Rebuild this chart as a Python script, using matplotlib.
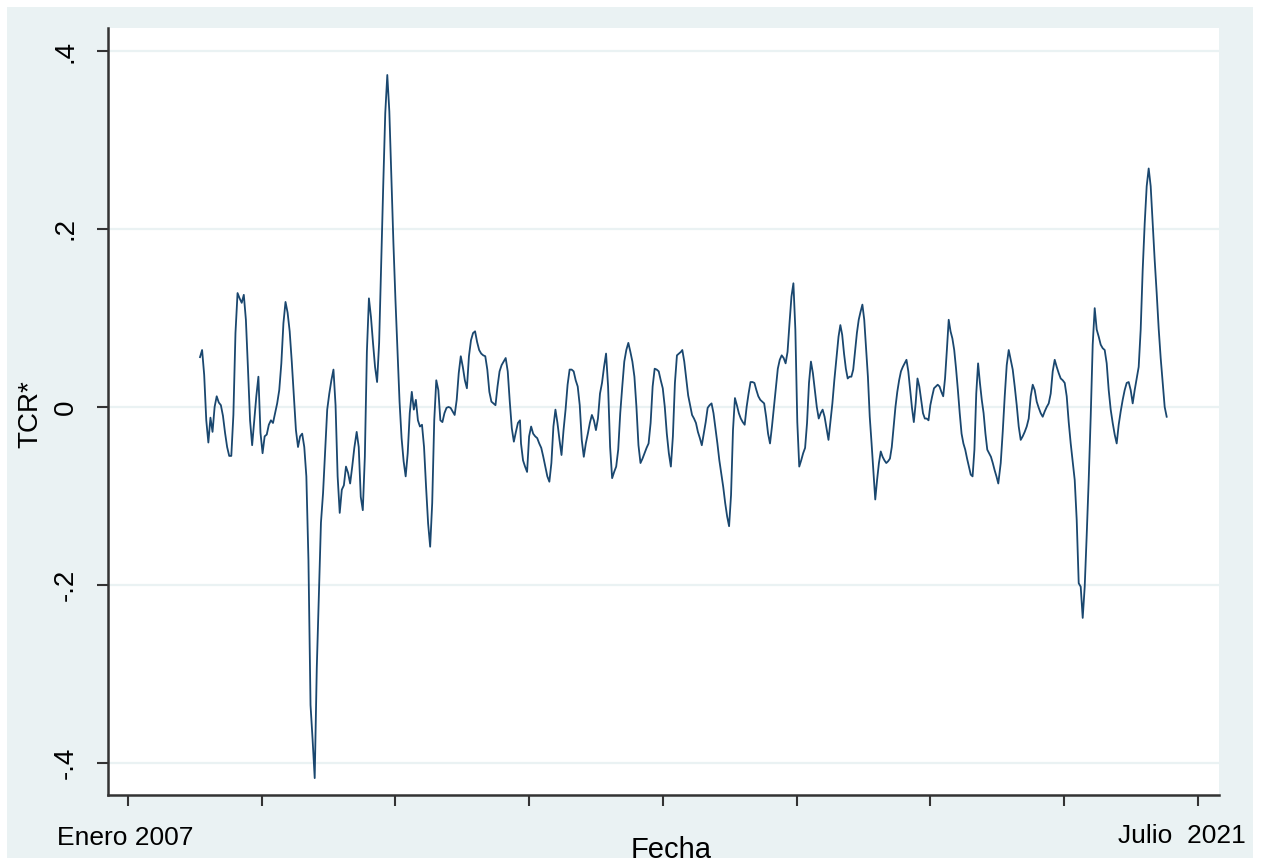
import numpy as np
import matplotlib.pyplot as plt
from matplotlib.patches import Rectangle

plt.rcParams['font.family'] = ['Liberation Sans', 'DejaVu Sans']

tcr_1 = [
    0.056, 0.064, 0.036, -0.015, -0.040, -0.012, -0.028, 0.000, 0.012, 0.005,
    0.002, -0.010, -0.029, -0.045, -0.055, -0.055, -0.009, 0.083, 0.128, 0.122,
    0.117, 0.126, 0.098, 0.043, -0.015, -0.043, -0.015, 0.012, 0.034, -0.029,
    -0.052, -0.033, -0.031, -0.020, -0.015, -0.018, -0.007, 0.004, 0.019, 0.049,
    0.094, 0.118, 0.106, 0.085, 0.051, 0.013, -0.026, -0.045, -0.033, -0.030,
    -0.045, -0.078, -0.172, -0.335, -0.374, -0.417, -0.293, -0.211, -0.130, -0.097,
    -0.050, -0.003, 0.015, 0.030, 0.042, 0.002, -0.078, -0.119, -0.093, -0.088,
    -0.067, -0.074, -0.086, -0.067, -0.046,
]
tcr_2 = [
    -0.028, -0.045, -0.101, -0.116, -0.056, 0.062, 0.122, 0.101, 0.072, 0.045,
    0.028, 0.072, 0.160, 0.248, 0.330, 0.373, 0.332, 0.259, 0.184, 0.120,
    0.062, 0.006, -0.035, -0.061, -0.078, -0.052, -0.007, 0.017, -0.003, 0.008,
    -0.015, -0.022, -0.020, -0.045, -0.090, -0.131, -0.157, -0.108, -0.015, 0.030,
    0.019, -0.015, -0.017, -0.007, -0.001, 0.000, -0.001, -0.005, -0.009, 0.008,
    0.038, 0.057, 0.045, 0.030, 0.021, 0.057, 0.075, 0.083, 0.085, 0.073,
    0.064, 0.060, 0.058, 0.057, 0.042, 0.017, 0.006, 0.004, 0.002, 0.023,
    0.040, 0.047, 0.051, 0.055, 0.040, 0.006, -0.024, -0.039, -0.028, -0.018,
    -0.015,
]
tcr_3 = [
    -0.041, -0.060, -0.067, -0.073, -0.033, -0.022, -0.030, -0.033, -0.035, -0.041,
    -0.046, -0.056, -0.067, -0.078, -0.084, -0.063, -0.022, -0.003, -0.018, -0.037,
    -0.054, -0.026, -0.003, 0.025, 0.042, 0.042, 0.040, 0.030, 0.023, 0.002,
    -0.037, -0.056, -0.041, -0.030, -0.018, -0.009, -0.015, -0.026, -0.013, 0.015,
    0.027, 0.045, 0.060, 0.023, -0.045, -0.080, -0.073, -0.067, -0.048, -0.007,
    0.023, 0.051, 0.064, 0.072, 0.062, 0.051, 0.034, 0.000, -0.043, -0.063,
    -0.058, -0.052, -0.046, -0.041, -0.018, 0.023, 0.043, 0.042, 0.040, 0.030,
    0.021, 0.000, -0.030, -0.052, -0.067, -0.033, 0.027, 0.058, 0.060, 0.062,
]
tcr_4 = [
    0.064, 0.051, 0.032, 0.013, 0.002, -0.009, -0.013, -0.018, -0.028, -0.035,
    -0.043, -0.030, -0.017, -0.001, 0.002, 0.004, -0.007, -0.024, -0.041, -0.060,
    -0.075, -0.090, -0.108, -0.123, -0.134, -0.099, -0.026, 0.010, 0.002, -0.007,
    -0.013, -0.017, -0.020, 0.000, 0.015, 0.028, 0.028, 0.027, 0.019, 0.012,
    0.008, 0.006, 0.004, -0.011, -0.030, -0.041, -0.022, 0.000, 0.023, 0.043,
    0.053, 0.058, 0.055, 0.049, 0.062, 0.094, 0.124, 0.139, 0.087, -0.017,
    -0.067, -0.060, -0.052, -0.046, -0.018, 0.027, 0.051, 0.038, 0.019, 0.000,
    -0.013, -0.007, -0.003, -0.011, -0.024, -0.037, -0.017, 0.004, 0.030,
]
tcr_5 = [
    0.057, 0.079, 0.092, 0.081, 0.060, 0.043, 0.032, 0.034, 0.034, 0.042,
    0.062, 0.083, 0.098, 0.107, 0.115, 0.098, 0.066, 0.034, -0.011, -0.041,
    -0.073, -0.104, -0.082, -0.063, -0.050, -0.056, -0.060, -0.063, -0.061, -0.058,
    -0.045, -0.022, 0.000, 0.017, 0.030, 0.040, 0.045, 0.049, 0.053, 0.040,
    0.019, -0.001, -0.017, 0.004, 0.032, 0.023, 0.008, -0.007, -0.013, -0.013,
    -0.015, 0.002, 0.012, 0.021, 0.023, 0.025, 0.023, 0.017, 0.012, 0.032,
    0.064, 0.098, 0.085, 0.077, 0.064, 0.043, 0.019, -0.007, -0.030, -0.041,
    -0.048, -0.058, -0.067, -0.076, -0.078, -0.048, 0.015, 0.049, 0.027, 0.008,
    -0.007, -0.030, -0.048, -0.052, -0.056, -0.063, -0.071, -0.078, -0.086,
]
tcr_6 = [
    -0.063, -0.028, 0.012, 0.047, 0.064, 0.053, 0.042, 0.023, 0.002, -0.022,
    -0.037, -0.033, -0.028, -0.022, -0.013, 0.012, 0.025, 0.019, 0.006, -0.001,
    -0.007, -0.011, -0.005, 0.000, 0.004, 0.015, 0.040, 0.053, 0.045, 0.038,
    0.032, 0.030, 0.027, 0.012, -0.017, -0.041, -0.061, -0.082, -0.127, -0.198,
    -0.202, -0.237, -0.202, -0.144, -0.082, -0.011, 0.070, 0.111, 0.087, 0.079,
    0.070, 0.066, 0.064, 0.049, 0.019, -0.003, -0.018, -0.031, -0.041, -0.020,
    -0.005, 0.008, 0.019, 0.027, 0.028, 0.019, 0.004, 0.019, 0.032, 0.045,
    0.087, 0.154, 0.206, 0.248, 0.268, 0.248, 0.206, 0.165, 0.128, 0.088,
    0.055, 0.027, 0.000, -0.011,
]
# fecha (anio decimal) de inicio y fin de cada tramo
tramos_ini = [2007.976, 2010.099, 2012.326, 2014.512, 2016.604, 2018.827]
tramos_fin = [2010.067, 2012.312, 2014.494, 2016.572, 2018.794, 2021.076]

yticks = [-0.4, -0.2, 0, 0.2, 0.4]
ytick_labels = ['-.4', '-.2', '0', '.2', '.4']
x_label_ini = 'Enero 2007'
x_label_fin = 'Julio  2021'

tramos = [tcr_1, tcr_2, tcr_3, tcr_4, tcr_5, tcr_6]
tcr = np.concatenate(tramos)
fecha = np.concatenate([np.linspace(a, b, len(t))
                        for a, b, t in zip(tramos_ini, tramos_fin, tramos)])

W, H = 1261, 863
fig = plt.figure(figsize=(W / 100, H / 100), dpi=100)
fig.patch.set_facecolor('white')
fig.add_artist(Rectangle((7 / W, 1 - 858 / H), (1253 - 7) / W, (858 - 7) / H,
                         transform=fig.transFigure, facecolor='#EAF2F3',
                         edgecolor='none', zorder=0))

ax = fig.add_axes([108 / W, 68 / H, 1111 / W, 767 / H])
ax.set_facecolor('white')
ax.plot(fecha, tcr, color='#1A476F', lw=1.3, zorder=3)

ax.set_xlim(2006.729, 2021.785)
ax.set_ylim(-0.436, 0.4258)

ax.set_yticks(yticks)
ax.set_yticklabels(ytick_labels, fontsize=20)
for lab in ax.get_yticklabels():
    lab.set_rotation(90)
    lab.set_va('center')
ax.set_xticks(np.linspace(2007, 2021.5, 9))
ax.set_xticklabels([])

ax.yaxis.grid(True, color='#EAF2F3', lw=1.6)
ax.set_axisbelow(True)
ax.tick_params(axis='both', length=8, width=1.5, color='#333333', direction='out')
ax.tick_params(axis='y', pad=13)
for s in ['top', 'right']:
    ax.spines[s].set_visible(False)
for s in ['left', 'bottom']:
    ax.spines[s].set_color('#333333')
    ax.spines[s].set_linewidth(1.8)

fig.text(125 / W, 1 - 838 / H, x_label_ini, ha='center', va='center', fontsize=19)
fig.text(1182 / W, 1 - 836 / H, x_label_fin, ha='center', va='center', fontsize=19)
fig.text(671 / W, 1 - 850 / H, 'Fecha', ha='center', va='center', fontsize=21)
fig.text(30 / W, 1 - 414 / H, 'TCR*', ha='center', va='center', fontsize=20, rotation=90)

fig.savefig('out.png', dpi=100)
